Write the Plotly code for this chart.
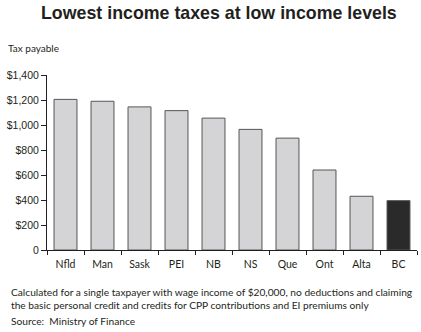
import plotly.graph_objects as go

provinces = ["Nfld", "Man", "Sask", "PEI", "NB", "NS", "Que", "Ont", "Alta", "BC"]
tax_payable = [1205, 1190, 1145, 1115, 1055, 965, 895, 640, 430, 395]
bar_colors = ["#d4d4d6"] * 9 + ["#2b2a2a"]
y_tickvals = [0, 200, 400, 600, 800, 1000, 1200, 1400]
y_ticktext = ["0", "$200", "$400", "$600", "$800", "$1,000", "$1,200", "$1,400"]

W, H = 421, 332
L, R, T, B = 47, 4, 75, 81.5
ph = H - T - B
pw = W - L - R

def py(ypix):
    return (H - B - ypix) / ph

def px(xpix):
    return (xpix - L) / pw

fig = go.Figure(go.Bar(
    x=provinces, y=tax_payable,
    marker=dict(color=bar_colors, line=dict(color="#555555", width=1)),
    width=0.62,
))

fig.update_layout(
    width=W, height=H,
    margin=dict(l=L, r=R, t=T, b=B),
    paper_bgcolor="white", plot_bgcolor="white",
    showlegend=False,
    bargap=0.38,
    font=dict(family="Liberation Sans, Arial", color="#231f20"),
    xaxis=dict(
        showline=True, linecolor="#231f20", linewidth=1,
        ticks="outside", tickson="boundaries", ticklen=4, tickcolor="#231f20",
        ticklabelstandoff=4,
        tickfont=dict(family="Lato, Open Sans", size=10.5, color="#231f20"),
        showgrid=False, fixedrange=True,
    ),
    yaxis=dict(
        range=[0, 1400], tickvals=y_tickvals, ticktext=y_ticktext,
        showline=True, linecolor="#231f20", linewidth=1,
        ticks="outside", ticklen=5, tickcolor="#231f20",
        tickfont=dict(family="Liberation Sans, Arial", size=10.5, color="#231f20"),
        showgrid=False, zeroline=False, fixedrange=True,
    ),
    annotations=[
        dict(text="<b>Lowest income taxes at low income levels</b>", xref="paper", yref="paper",
             x=px(219), y=py(13), xanchor="center", yanchor="middle", showarrow=False,
             font=dict(family="Liberation Sans, Arial", size=17.8, color="#231f20")),
        dict(text="Tax payable", xref="paper", yref="paper",
             x=px(6), y=py(48), xanchor="left", yanchor="middle", showarrow=False,
             font=dict(family="Lato, Open Sans", size=10, color="#231f20")),
        dict(text="Calculated for a single taxpayer with wage income of $20,000, no deductions and claiming",
             xref="paper", yref="paper", x=px(9), y=py(293), xanchor="left", yanchor="middle",
             showarrow=False, font=dict(family="Lato, Open Sans", size=10.2, color="#231f20")),
        dict(text="the basic personal credit and credits for CPP contributions and EI premiums only",
             xref="paper", yref="paper", x=px(9), y=py(306), xanchor="left", yanchor="middle",
             showarrow=False, font=dict(family="Lato, Open Sans", size=10.2, color="#231f20")),
        dict(text="Source:  Ministry of Finance",
             xref="paper", yref="paper", x=px(9), y=py(322), xanchor="left", yanchor="middle",
             showarrow=False, font=dict(family="Lato, Open Sans", size=10.2, color="#231f20")),
    ],
)

fig.write_html("out.html")
